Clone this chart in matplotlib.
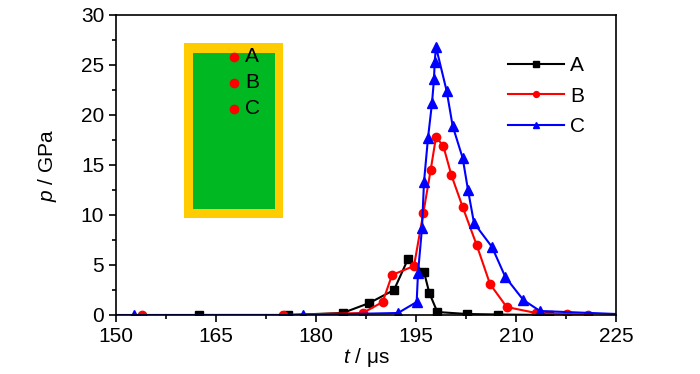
import matplotlib
matplotlib.use("Agg")
import matplotlib.pyplot as plt
from matplotlib.patches import Rectangle
from matplotlib.ticker import MultipleLocator

plt.rcParams['font.family'] = ['Liberation Sans', 'DejaVu Sans']
plt.rcParams['mathtext.fontset'] = 'custom'
plt.rcParams['mathtext.rm'] = 'Liberation Sans'
plt.rcParams['mathtext.it'] = 'Liberation Sans:italic'

# Data
A_t = [162.5, 175.8, 184.0, 188.0, 191.7, 193.8, 196.2, 197.0, 198.2, 202.6, 207.3, 215.0]
A_p = [0.0, 0.0, 0.2, 1.2, 2.5, 5.6, 4.3, 2.2, 0.3, 0.1, 0.05, 0.0]

B_t = [153.9, 175.0, 187.0, 190.0, 191.4, 194.7, 196.1, 197.2, 198.0, 199.1, 200.3,
       202.0, 204.1, 206.1, 208.6, 213.0, 217.6, 220.8]
B_p = [0.0, 0.0, 0.2, 1.3, 4.0, 4.9, 10.2, 14.5, 17.8, 16.9, 14.0,
       10.8, 7.0, 3.1, 0.8, 0.2, 0.1, 0.05]

C_t = [150.0, 152.7, 178.0, 192.3, 195.1, 195.3, 195.9, 196.2, 196.8, 197.4, 197.7, 197.8,
       198.0, 199.6, 200.5, 202.0, 202.8, 203.7, 206.4, 208.4, 211.1, 213.6, 225.0]
C_p = [0.0, 0.0, 0.0, 0.2, 1.3, 4.2, 8.7, 13.3, 17.7, 21.2, 23.6, 25.3,
       26.8, 22.4, 18.9, 15.7, 12.5, 9.2, 6.8, 3.8, 1.5, 0.4, 0.1]

labels = ['A', 'B', 'C']
inset_labels = ['A', 'B', 'C']

fig = plt.figure(figsize=(7.0, 3.74), dpi=100)
ax = fig.add_axes([116/700, 1-315/374, 500/700, 300/374])

ax.plot(A_t, A_p, color='black', lw=1.5, marker='s', ms=6, label=labels[0])
ax.plot(B_t, B_p, color='red', lw=1.5, marker='o', ms=6, label=labels[1])
ax.plot(C_t, C_p, color='blue', lw=1.5, marker='^', ms=7, label=labels[2],
        markevery=list(range(1, len(C_t) - 1)))

ax.set_xlim(150, 225)
ax.set_ylim(0, 30)
ax.xaxis.set_major_locator(MultipleLocator(15))
ax.xaxis.set_minor_locator(MultipleLocator(7.5))
ax.yaxis.set_major_locator(MultipleLocator(5))
ax.yaxis.set_minor_locator(MultipleLocator(2.5))
ax.tick_params(which='major', direction='out', length=5, width=1.2, labelsize=15,
               top=False, right=False)
ax.tick_params(which='minor', direction='out', length=3, width=1.2, top=False, right=False)
for s in ax.spines.values():
    s.set_linewidth(1.2)

ax.set_xlabel(r'$t$ / μs', fontsize=15, labelpad=0)
ax.set_ylabel(r'$p$ / GPa', fontsize=15, labelpad=16)

leg = ax.legend(loc='upper right', bbox_to_anchor=(0.975, 0.925), frameon=False,
                fontsize=15, handlelength=2.65, markerscale=0.7, labelspacing=0.55,
                handletextpad=0.3)

# Inset sketch
ax.add_patch(Rectangle((160.2, 9.7), 14.85, 17.5, facecolor='#FFCC00', edgecolor='none', zorder=1))
ax.add_patch(Rectangle((161.55, 10.6), 12.3, 15.6, facecolor='#00B822', edgecolor='none', zorder=1.1))
for yv, lab in zip([25.8, 23.2, 20.6], inset_labels):
    ax.plot([167.7], [yv], 'o', color='red', ms=6, zorder=1.2)
    ax.text(169.4, yv, lab, fontsize=15, va='center', ha='left', zorder=1.3)

fig.savefig('out.png', dpi=100)
